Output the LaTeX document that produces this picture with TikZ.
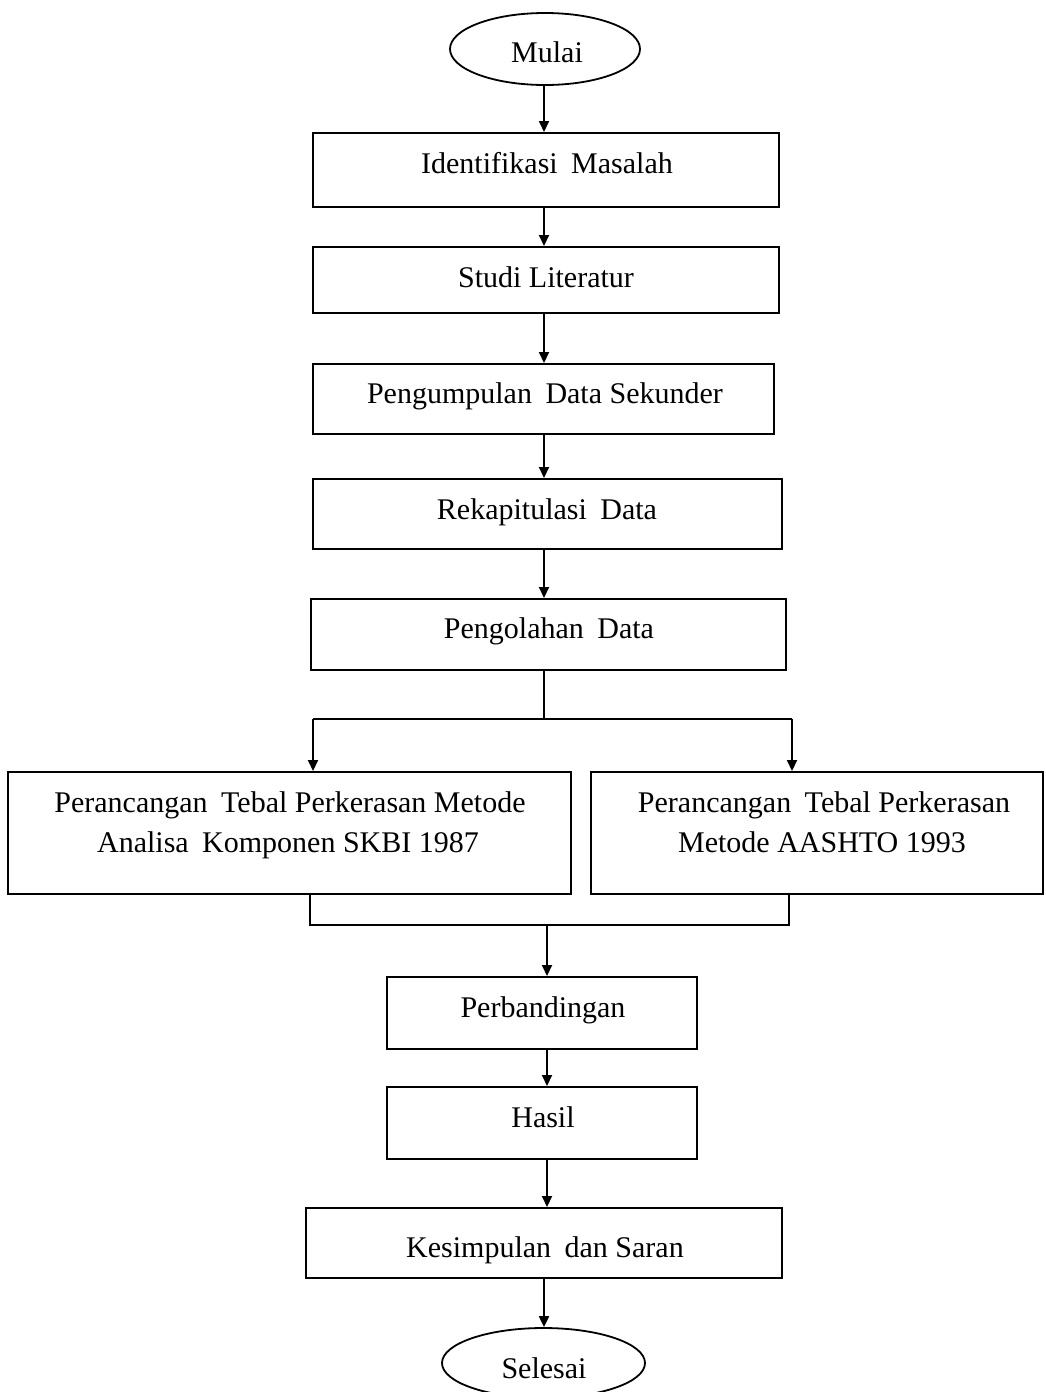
\documentclass[tikz,border=0pt]{standalone}
\usepackage{fontspec}
\setmainfont{Liberation Serif}
\usetikzlibrary{arrows.meta,shapes.geometric}
\newcommand{\gap}{\hspace{0.45em}}
\begin{document}
\begin{tikzpicture}[x=1pt,y=-1pt,
  flowbox/.style={draw, line width=2pt, inner sep=0pt, rectangle},
  terminal/.style={draw, line width=1.8pt, inner sep=0pt, ellipse,
    minimum width=190pt, minimum height=72pt},
  txt/.style={anchor=base, inner sep=0pt, align=center,
    font=\fontsize{30}{40}\selectfont},
  arr/.style={line width=2pt, -{Triangle[length=11pt,width=10pt]}},
  link/.style={line width=1.6pt}
]
\useasboundingbox (0,0) rectangle (1045,1392);

% vertical axis of the main column
\coordinate (axis) at (544,0);
\coordinate (axisb) at (547,0);

% start terminal
\node[terminal] (mulai) at (545,49) {};
\node[txt] (tmulai) at (547,62) {Mulai};

% main column of process boxes
\node[flowbox, minimum width=466pt, minimum height=74pt] (b1) at (546,170) {};
\node[txt] (t1) at (547,173) {Identifikasi\gap Masalah};

\node[flowbox, minimum width=466pt, minimum height=66pt] (b2) at (546,280) {};
\node[txt] (t2) at (546,287) {Studi Literatur};

\node[flowbox, minimum width=461pt, minimum height=70pt] (b3) at (543.5,399) {};
\node[txt] (t3) at (545,403) {Pengumpulan\gap Data Sekunder};

\node[flowbox, minimum width=469pt, minimum height=70pt] (b4) at (547.5,514) {};
\node[txt] (t4) at (547,519) {Rekapitulasi\gap Data};

\node[flowbox, minimum width=475pt, minimum height=71pt] (b5) at (548.5,634.5) {};
\node[txt] (t5) at (549,638) {Pengolahan\gap Data};

% the two design methods
\node[flowbox, minimum width=563pt, minimum height=122pt] (pl) at (289.5,833) {};
\node[txt] (tl) at (290,812) {Perancangan\gap Tebal Perkerasan Metode};
\node[txt] (tl2) at (288,852) {Analisa\gap Komponen SKBI 1987};

\node[flowbox, minimum width=452pt, minimum height=122pt] (pr) at (817,833) {};
\node[txt] (tr) at (824,812) {Perancangan\gap Tebal Perkerasan};
\node[txt] (tr2) at (822,852) {Metode AASHTO 1993};

% lower column
\node[flowbox, minimum width=310pt, minimum height=72pt] (b6) at (542,1013) {};
\node[txt] (t6) at (543,1017) {Perbandingan};

\node[flowbox, minimum width=310pt, minimum height=72pt] (b7) at (542,1123) {};
\node[txt] (t7) at (543,1127) {Hasil};

\node[flowbox, minimum width=476pt, minimum height=70pt] (b8) at (544,1243) {};
\node[txt] (t8) at (545,1257) {Kesimpulan\gap dan Saran};

% end terminal
\node[terminal, minimum width=203pt, minimum height=70pt] (selesai) at (543.5,1363) {};
\node[txt] (tselesai) at (544,1378) {Selesai};

% straight flow
\draw[arr] (mulai.south -| axis) -- (b1.north -| axis);
\draw[arr] (b1.south -| axis) -- (b2.north -| axis);
\draw[arr] (b2.south -| axis) -- (b3.north -| axis);
\draw[arr] (b3.south -| axis) -- (b4.north -| axis);
\draw[arr] (b4.south -| axis) -- (b5.north -| axis);

% split into the two methods
\coordinate (forkC) at (544,719);
\coordinate (forkL) at (313,719);
\coordinate (forkR) at (792,719);
\draw[link] (b5.south -| axis) -- (forkC);
\draw[link] (forkL) -- (forkR);
\draw[arr] (forkL) -- (forkL |- pl.north);
\draw[arr] (forkR) -- (forkR |- pr.north);

% merge of the two methods
\coordinate (joinL) at (310,925);
\coordinate (joinR) at (789,925);
\coordinate (joinC) at (547,925);
\draw[link] (pl.south -| joinL) -- (joinL) -- (joinR) -- (pr.south -| joinR);
\draw[arr] (joinC) -- (b6.north -| joinC);

\draw[arr] (b6.south -| axisb) -- (b7.north -| axisb);
\draw[arr] (b7.south -| axisb) -- (b8.north -| axisb);
\draw[arr] (b8.south -| axis) -- (selesai.north -| axis);
\end{tikzpicture}
\end{document}
